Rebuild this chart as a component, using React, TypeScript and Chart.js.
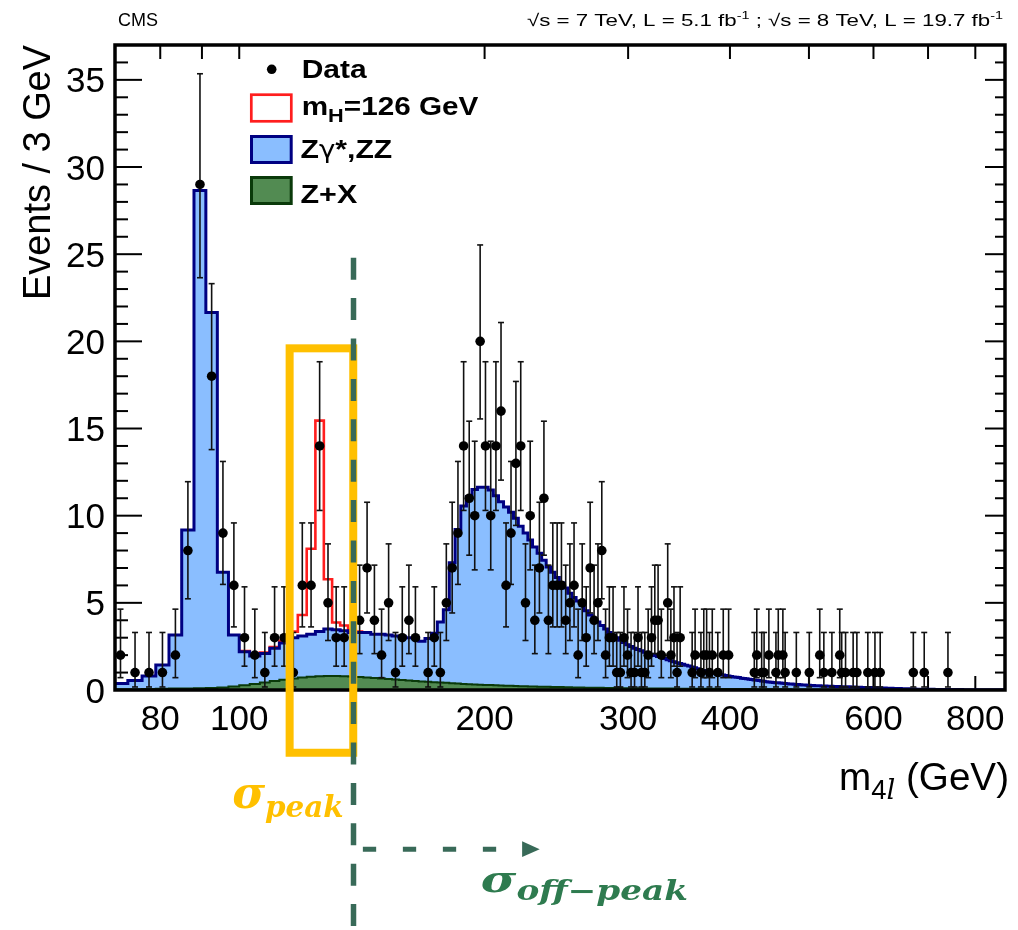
import React, { useEffect, useRef } from 'react';
import { Chart, registerables } from 'chart.js';

Chart.register(...registerables);

// ---------------- data ----------------
const BIN_START = 70; // GeV, lower edge of the first 3 GeV bin
const BIN_WIDTH = 3;

// Stack top: Zγ*,ZZ + Z+X (events / 3 GeV), one value per bin from 70 GeV
const bkgTotal = [
  0.38, 0.54, 0.80, 1.43, 3.16, 9.18, 28.66, 21.66, 6.75, 3.16,
  2.2, 1.95, 2.1, 2.4, 2.7, 3.0, 3.1, 3.2, 3.35, 3.5,
  3.45, 3.4, 3.3, 3.3, 3.3, 3.2, 3.2, 3.15, 3.1, 3.05,
  3.0, 3.0, 2.8, 2.95, 3.25, 3.9, 4.6, 7.3, 9.2, 10.55,
  11.1, 11.5, 11.63, 11.63, 11.48, 11.14, 10.8, 10.5, 10.2, 9.85,
  9.4, 9.0, 8.6, 8.2, 7.85, 7.45, 7.05, 6.75, 6.45, 6.15,
  5.85, 5.55, 5.3, 5.1, 4.85, 4.55, 4.3, 4.1, 3.9, 3.7,
  3.5, 3.3, 3.15, 3.0, 2.85, 2.72, 2.6, 2.5, 2.4, 2.32,
  2.25, 2.17, 2.1, 2.05, 1.98, 1.92, 1.86, 1.8, 1.74, 1.68,
  1.62, 1.57, 1.52, 1.47, 1.42, 1.37, 1.32, 1.27, 1.22, 1.17,
  1.12, 1.08, 1.04, 1.0, 0.96, 0.92, 0.89, 0.86, 0.83, 0.8,
  0.77, 0.75, 0.73, 0.71, 0.68, 0.66, 0.64, 0.62, 0.6, 0.58,
  0.56, 0.54, 0.52, 0.5, 0.48, 0.46, 0.45, 0.43, 0.42, 0.41,
  0.4, 0.39, 0.37, 0.36, 0.35, 0.34, 0.33, 0.32, 0.31, 0.3,
  0.29, 0.28, 0.275, 0.27, 0.26, 0.255, 0.25, 0.245, 0.24, 0.235,
  0.23, 0.225, 0.22, 0.215, 0.21, 0.205, 0.2, 0.2, 0.195, 0.19,
  0.19, 0.185, 0.18, 0.18, 0.175, 0.17, 0.165, 0.16, 0.16, 0.155,
  0.15, 0.15, 0.145, 0.14, 0.14, 0.135, 0.13, 0.13, 0.125, 0.12,
  0.12, 0.115, 0.11, 0.11, 0.105, 0.1, 0.1, 0.095, 0.09, 0.09,
  0.085, 0.08, 0.08, 0.075, 0.07, 0.07, 0.065, 0.065, 0.06, 0.06,
  0.055, 0.055, 0.05, 0.05, 0.05, 0.045, 0.045, 0.045, 0.04, 0.04,
  0.04, 0.038, 0.037, 0.036, 0.035, 0.034, 0.033, 0.032, 0.031, 0.03,
  0.03, 0.029, 0.028, 0.027, 0.026, 0.026, 0.025, 0.025, 0.024, 0.024,
  0.023, 0.023, 0.022, 0.022, 0.021, 0.021, 0.02, 0.02, 0.02, 0.019,
  0.019, 0.018, 0.018, 0.018, 0.017, 0.017, 0.017, 0.016, 0.016, 0.016,
  0.015, 0.015, 0.015, 0.014, 0.014, 0.014, 0.013, 0.013, 0.013, 0.012,
  0.012, 0.012, 0.011, 0.011, 0.011, 0.01, 0.01,
];

// Z+X reducible background (events / 3 GeV), one value per bin from 70 GeV
const zxValues = [
  0.04, 0.05, 0.06, 0.07, 0.08, 0.09, 0.1, 0.12, 0.15, 0.2,
  0.27, 0.35, 0.43, 0.51, 0.59, 0.66, 0.72, 0.76, 0.79, 0.8,
  0.8, 0.79, 0.77, 0.75, 0.72, 0.69, 0.66, 0.63, 0.6, 0.57,
  0.54, 0.51, 0.49, 0.47, 0.45, 0.43, 0.41, 0.39, 0.37, 0.35,
  0.33, 0.31, 0.3, 0.29, 0.28, 0.27, 0.26, 0.25, 0.24, 0.23,
  0.22, 0.21, 0.2, 0.195, 0.19, 0.185, 0.18, 0.175, 0.17, 0.165,
  0.16, 0.155, 0.15, 0.145, 0.14, 0.135, 0.13, 0.128, 0.125, 0.122,
  0.12, 0.117, 0.114, 0.111, 0.108, 0.105, 0.102, 0.1, 0.098, 0.096,
  0.095, 0.093, 0.092, 0.09, 0.089, 0.087, 0.086, 0.084, 0.083, 0.082,
  0.08, 0.079, 0.078, 0.076, 0.075, 0.074, 0.073, 0.072, 0.071, 0.07,
  0.069, 0.068, 0.067, 0.066, 0.065, 0.064, 0.063, 0.062, 0.061, 0.061,
  0.06, 0.059, 0.058, 0.057, 0.056, 0.055, 0.054, 0.053, 0.052, 0.051,
  0.05, 0.049, 0.048, 0.047, 0.046, 0.045, 0.044, 0.043, 0.042, 0.041,
  0.04, 0.039, 0.038, 0.037, 0.036, 0.035, 0.035, 0.034, 0.034, 0.033,
  0.032, 0.032, 0.031, 0.03, 0.029, 0.029, 0.028, 0.028, 0.027, 0.027,
  0.026, 0.026, 0.025, 0.025, 0.024, 0.024, 0.023, 0.023, 0.022, 0.022,
  0.021, 0.021, 0.02, 0.02, 0.019, 0.019, 0.018, 0.018, 0.018, 0.017,
  0.017, 0.017, 0.016, 0.016, 0.016, 0.015, 0.015, 0.015, 0.014, 0.014,
  0.014, 0.014, 0.013, 0.013, 0.013, 0.013, 0.012, 0.012, 0.012, 0.012,
  0.011, 0.011, 0.011, 0.011, 0.011, 0.01, 0.01, 0.01, 0.01, 0.01,
  0.0095, 0.0095, 0.009, 0.009, 0.009, 0.0085, 0.0085, 0.0085, 0.008, 0.008,
  0.008, 0.008, 0.0075, 0.0075, 0.0075, 0.007, 0.007, 0.007, 0.007, 0.0068,
  0.0068, 0.0066, 0.0066, 0.0064, 0.0064, 0.0062, 0.0062, 0.006, 0.006, 0.006,
  0.0058, 0.0058, 0.0058, 0.0056, 0.0056, 0.0056, 0.0055, 0.0055, 0.0055, 0.0054,
  0.0054, 0.0054, 0.0053, 0.0053, 0.0053, 0.0052, 0.0052, 0.0052, 0.0051, 0.0051,
  0.0051, 0.005, 0.005, 0.005, 0.005, 0.005, 0.005, 0.005, 0.005, 0.005,
  0.005, 0.005, 0.005, 0.005, 0.005, 0.005, 0.005,
];

// SM Higgs, mH = 126 GeV, stacked on top of the background
const HIGGS_START = 100; // GeV
const higgsSignal = [0.03, 0.04, 0.05, 0.07, 0.12, 0.35, 1.2, 4.9, 12.1, 2.85, 0.42, 0.3, 0.15, 0.05];

// Observed events (bin centres, GeV) and counts
const dataMass = [
  71.5, 74.5, 77.5, 80.5, 83.5, 86.5, 89.5, 92.5, 95.5, 98.5,
  101.5, 104.5, 107.5, 110.5, 113.5, 116.5, 119.5, 122.5, 125.5, 128.5,
  131.5, 134.5, 140.5, 143.5, 146.5, 149.5, 152.5, 155.5, 158.5, 161.5,
  164.5, 170.5, 173.5, 176.5, 179.5, 182.5, 185.5, 188.5, 191.5, 194.5,
  197.5, 200.5, 203.5, 206.5, 209.5, 212.5, 215.5, 218.5, 221.5, 224.5,
  227.5, 230.5, 233.5, 236.5, 239.5, 242.5, 245.5, 248.5, 251.5, 254.5,
  257.5, 260.5, 263.5, 266.5, 269.5, 272.5, 275.5, 278.5, 281.5, 284.5,
  287.5, 290.5, 293.5, 296.5, 299.5, 302.5, 305.5, 308.5, 311.5, 314.5,
  317.5, 320.5, 323.5, 326.5, 329.5, 335.5, 338.5, 341.5, 344.5, 347.5,
  359.5, 362.5, 368.5, 371.5, 374.5, 377.5, 380.5, 386.5, 392.5, 398.5,
  428.5, 431.5, 437.5, 440.5, 446.5, 455.5, 458.5, 464.5, 467.5, 482.5,
  500.5, 515.5, 521.5, 533.5, 545.5, 548.5, 554.5, 566.5, 572.5, 590.5,
  602.5, 611.5, 671.5, 692.5, 740.5,
];
const dataCount = [
  2, 1, 1, 1, 2, 8, 29, 18, 9, 6,
  3, 2, 1, 3, 3, 1, 6, 6, 14, 5,
  3, 3, 4, 7, 4, 2, 5, 1, 3, 4,
  3, 1, 3, 1, 5, 7, 9, 14, 11, 10,
  20, 14, 10, 14, 16, 6, 9, 13, 14, 5,
  10, 4, 7, 11, 4, 6, 6, 6, 4, 5,
  6, 2, 5, 3, 7, 4, 5, 8, 2, 3,
  3, 1, 1, 3, 2, 1, 1, 3, 1, 1,
  2, 3, 4, 4, 2, 5, 2, 3, 1, 3,
  1, 2, 1, 2, 2, 1, 2, 1, 2, 2,
  1, 2, 1, 1, 2, 1, 2, 2, 1, 1,
  1, 2, 1, 1, 2, 1, 1, 1, 1, 1,
  1, 1, 1, 1, 1,
];

// 68.3% Garwood Poisson intervals, indexed by observed count
const poissonLow = [
  0, 0.173, 0.708, 1.367, 2.086, 2.84, 3.62, 4.419, 5.232, 6.057,
  6.891, 7.734, 8.585, 9.441, 10.3, 11.17, 12.04, 12.91, 13.79, 14.67,
  15.55, 16.44, 17.33, 18.22, 19.12, 20.02, 20.92, 21.83, 22.74, 23.65,
];
const poissonHigh = [
  1.841, 3.3, 4.638, 5.918, 7.163, 8.382, 9.584, 10.77, 11.95, 13.11,
  14.27, 15.42, 16.56, 17.7, 18.83, 19.95, 21.08, 22.2, 23.31, 24.42,
  25.53, 26.63, 27.73, 28.83, 29.92, 31.01, 32.1, 33.19, 34.27, 35.35,
];

// Axes
const X_MIN = 70.4;
const X_MAX = 870;
const Y_MIN = 0;
const Y_MAX = 37;
const xTickValues = [80, 90, 100, 200, 300, 400, 500, 600, 700, 800];
const xLabelValues = [80, 100, 200, 300, 400, 600, 800];
const yMajorTicks = [0, 5, 10, 15, 20, 25, 30, 35];
const Y_MINOR_STEP = 1;

// Annotation (in axis units)
const peakWindowMass = [115.3, 138.0];
const peakWindowEvents = [19.6, -3.6];
const offPeakMass = 138.1;
const offPeakLineTop = 24.8;
const offPeakArrow = { from: 141.8, to: 233.7, events: -9.13 };

const COLORS = {
  blueFill: 'rgb(138,190,255)',
  navy: 'rgb(0,0,130)',
  red: 'rgb(255,30,30)',
  greenFill: 'rgb(82,139,82)',
  greenLine: 'rgb(10,58,10)',
  gold: '#FFC000',
  dashGreen: '#386A58',
  offPeakText: '#2E7B4F',
};

const SANS = '"Liberation Sans", Arial, Helvetica, sans-serif';
const SERIF = '"DejaVu Serif", "Liberation Serif", serif';

// ---------------- helpers ----------------
function histPoints(values: number[], start: number) {
  const pts = values.map((v, i) => ({ x: start + i * BIN_WIDTH, y: v }));
  pts.push({ x: start + values.length * BIN_WIDTH, y: values[values.length - 1] });
  return pts;
}

type Run = { t: string; font: string; dy?: number };

function drawRuns(
  ctx: CanvasRenderingContext2D,
  runs: Run[],
  x: number,
  y: number,
  color: string,
  align: 'left' | 'right' | 'center',
  targetWidth?: number,
) {
  ctx.save();
  let w = 0;
  const widths = runs.map((r) => {
    ctx.font = r.font;
    const m = ctx.measureText(r.t).width;
    w += m;
    return m;
  });
  const sx = targetWidth ? targetWidth / w : 1;
  const total = w * sx;
  const x0 = align === 'right' ? x - total : align === 'center' ? x - total / 2 : x;
  ctx.translate(x0, y);
  ctx.scale(sx, 1);
  ctx.fillStyle = color;
  ctx.textBaseline = 'alphabetic';
  ctx.textAlign = 'left';
  let cx = 0;
  runs.forEach((r, i) => {
    ctx.font = r.font;
    ctx.fillText(r.t, cx, r.dy || 0);
    cx += widths[i];
  });
  ctx.restore();
}

function line(ctx: CanvasRenderingContext2D, x1: number, y1: number, x2: number, y2: number) {
  ctx.beginPath();
  ctx.moveTo(x1, y1);
  ctx.lineTo(x2, y2);
  ctx.stroke();
}

const DATA_INDEX = 3;

const decorPlugin = {
  id: 'cmsDecor',
  beforeDatasetsDraw(chart: any) {
    const ctx: CanvasRenderingContext2D = chart.ctx;
    const { left, right, top, bottom } = chart.chartArea;
    const xs = chart.scales.x;
    const ys = chart.scales.y;
    ctx.save();
    ctx.strokeStyle = '#000';
    ctx.lineWidth = 2;
    for (let v = Y_MIN; v <= Y_MAX; v += Y_MINOR_STEP) {
      const y = ys.getPixelForValue(v);
      const major = yMajorTicks.includes(v);
      line(ctx, left, y, left + (major ? 27 : 13), y);
      line(ctx, right, y, right - (major ? 20 : 10), y);
    }
    xTickValues.forEach((v) => {
      const x = xs.getPixelForValue(v);
      line(ctx, x, bottom, x, bottom - 14);
      line(ctx, x, top, x, top + 14);
    });
    ctx.restore();
  },
  beforeDatasetDraw(chart: any, args: any) {
    if (args.index !== DATA_INDEX) return;
    const ctx: CanvasRenderingContext2D = chart.ctx;
    const xs = chart.scales.x;
    const ys = chart.scales.y;
    ctx.save();
    ctx.strokeStyle = '#111';
    ctx.lineWidth = 1.6;
    dataMass.forEach((m, i) => {
      const n = dataCount[i];
      const x = xs.getPixelForValue(m);
      const yl = ys.getPixelForValue(poissonLow[n]);
      const yh = ys.getPixelForValue(poissonHigh[n]);
      line(ctx, x, yl, x, yh);
      line(ctx, x - 3, yl, x + 3, yl);
      line(ctx, x - 3, yh, x + 3, yh);
    });
    ctx.restore();
  },
  afterDatasetsDraw(chart: any) {
    const ctx: CanvasRenderingContext2D = chart.ctx;
    const { left, right, top, bottom } = chart.chartArea;
    ctx.save();
    ctx.strokeStyle = '#000';
    ctx.lineWidth = 3.5;
    ctx.strokeRect(left, top, right - left, bottom - top);
    ctx.restore();
  },
  afterDraw(chart: any) {
    const ctx: CanvasRenderingContext2D = chart.ctx;
    const { left, right, top, bottom } = chart.chartArea;
    const xs = chart.scales.x;
    const ys = chart.scales.y;
    const px = (m: number) => xs.getPixelForValue(m);
    const py = (v: number) => ys.getPixelForValue(v);

    // tick labels
    yMajorTicks.forEach((v) => {
      drawRuns(ctx, [{ t: String(v), font: `35px ${SANS}` }], left - 10, py(v) + 12.5, '#000', 'right');
    });
    xLabelValues.forEach((v) => {
      drawRuns(ctx, [{ t: String(v), font: `35px ${SANS}` }], px(v), bottom + 39.5, '#000', 'center');
    });

    // axis titles
    ctx.save();
    ctx.translate(50, top);
    ctx.rotate(-Math.PI / 2);
    drawRuns(ctx, [{ t: 'Events / 3 GeV', font: `38px ${SANS}` }], 0, 0, '#000', 'right', 255);
    ctx.restore();
    drawRuns(
      ctx,
      [
        { t: 'm', font: `38px ${SANS}` },
        { t: '4', font: `27px ${SANS}`, dy: 9 },
        { t: 'l', font: `italic 27px ${SERIF}`, dy: 9 },
        { t: ' (GeV)', font: `38px ${SANS}` },
      ],
      right + 4,
      bottom + 100,
      '#000',
      'right',
      170,
    );

    // header
    drawRuns(ctx, [{ t: 'CMS', font: `18px ${SANS}` }], left + 3, 26, '#000', 'left');
    drawRuns(
      ctx,
      [
        { t: '\u221As = 7 TeV, L = 5.1 fb', font: `17px ${SANS}` },
        { t: '-1', font: `11px ${SANS}`, dy: -7 },
        { t: ' ; \u221As = 8 TeV, L = 19.7 fb', font: `17px ${SANS}` },
        { t: '-1', font: `11px ${SANS}`, dy: -7 },
      ],
      right - 2,
      26,
      '#000',
      'right',
      476,
    );

    // legend
    const LB = `bold 26px ${SANS}`;
    ctx.save();
    ctx.fillStyle = '#000';
    ctx.beginPath();
    ctx.arc(271.7, 69.3, 4.8, 0, Math.PI * 2);
    ctx.fill();
    ctx.lineJoin = 'miter';
    ctx.lineWidth = 2.7;
    ctx.strokeStyle = COLORS.red;
    ctx.fillStyle = '#fff';
    ctx.fillRect(251.3, 94.7, 40, 26.6);
    ctx.strokeRect(251.3, 94.7, 40, 26.6);
    ctx.lineWidth = 3;
    ctx.fillStyle = COLORS.blueFill;
    ctx.strokeStyle = COLORS.navy;
    ctx.fillRect(251.5, 136.5, 39.7, 26);
    ctx.strokeRect(251.5, 136.5, 39.7, 26);
    ctx.fillStyle = COLORS.greenFill;
    ctx.strokeStyle = COLORS.greenLine;
    ctx.fillRect(251.5, 177.5, 39.7, 26);
    ctx.strokeRect(251.5, 177.5, 39.7, 26);
    ctx.restore();
    drawRuns(ctx, [{ t: 'Data', font: LB }], 301.7, 78.3, '#000', 'left', 65);
    drawRuns(
      ctx,
      [
        { t: 'm', font: LB },
        { t: 'H', font: `bold 19px ${SANS}`, dy: 6.5 },
        { t: '=126 GeV', font: LB },
      ],
      301.7,
      115,
      '#000',
      'left',
      176.7,
    );
    drawRuns(
      ctx,
      [
        { t: 'Z', font: LB },
        { t: '\u03B3', font: `24px "DejaVu Sans", ${SANS}` },
        { t: '*,ZZ', font: LB },
      ],
      300.5,
      158.3,
      '#000',
      'left',
      91.7,
    );
    drawRuns(ctx, [{ t: 'Z+X', font: LB }], 300.5, 203.3, '#000', 'left', 56.7);

    // annotation: peak window
    const bx1 = px(peakWindowMass[0]);
    const bx2 = px(peakWindowMass[1]);
    const by1 = py(peakWindowEvents[0]);
    const by2 = py(peakWindowEvents[1]);
    ctx.save();
    ctx.strokeStyle = COLORS.gold;
    ctx.lineWidth = 8;
    ctx.lineJoin = 'miter';
    ctx.strokeRect(bx1, by1, bx2 - bx1, by2 - by1);
    ctx.restore();

    // annotation: off-peak dashed line and arrow
    const lx = px(offPeakMass);
    ctx.save();
    ctx.strokeStyle = COLORS.dashGreen;
    ctx.lineWidth = 5.5;
    ctx.setLineDash([22, 18.4]);
    line(ctx, lx, py(offPeakLineTop), lx, 940);
    const ay = py(offPeakArrow.events);
    const ax1 = px(offPeakArrow.from);
    const ax2 = px(offPeakArrow.to);
    ctx.lineWidth = 5;
    ctx.setLineDash([13.3, 26.7]);
    line(ctx, ax1, ay, ax2 - 22, ay);
    ctx.setLineDash([]);
    ctx.fillStyle = COLORS.dashGreen;
    ctx.beginPath();
    ctx.moveTo(ax2, ay);
    ctx.lineTo(ax2 - 17.6, ay - 7.8);
    ctx.lineTo(ax2 - 17.6, ay + 7.8);
    ctx.closePath();
    ctx.fill();
    ctx.restore();

    // annotation labels
    drawRuns(
      ctx,
      [
        { t: '\u03C3', font: `bold italic 44px ${SERIF}` },
        { t: 'peak', font: `bold italic 29px ${SERIF}`, dy: 8.7 },
      ],
      bx2 - 9.5,
      808,
      COLORS.gold,
      'right',
      111.6,
    );
    drawRuns(
      ctx,
      [
        { t: '\u03C3', font: `bold italic 38px ${SERIF}` },
        { t: 'off\u2212peak', font: `bold italic 27px ${SERIF}`, dy: 8.3 },
      ],
      ax1 + 118,
      891.7,
      COLORS.offPeakText,
      'left',
      207,
    );
  },
};

export default function App() {
  const ref = useRef<HTMLCanvasElement>(null);

  useEffect(() => {
    const canvas = ref.current;
    if (!canvas) return;

    const higgsTop = higgsSignal.map((h, i) => {
      const k = Math.round((HIGGS_START - BIN_START) / BIN_WIDTH) + i;
      return bkgTotal[k] + h;
    });

    const chart = new Chart(canvas, {
      type: 'line',
      data: {
        datasets: [
          {
            label: 'mH=126 GeV',
            data: histPoints(higgsTop, HIGGS_START),
            stepped: true,
            borderColor: COLORS.red,
            borderWidth: 2.6,
            pointRadius: 0,
            fill: false,
            order: 4,
          },
          {
            label: 'Zγ*,ZZ',
            data: histPoints(bkgTotal, BIN_START),
            stepped: true,
            borderColor: COLORS.navy,
            backgroundColor: COLORS.blueFill,
            borderWidth: 3,
            pointRadius: 0,
            fill: 'origin',
            order: 3,
          },
          {
            label: 'Z+X',
            data: histPoints(zxValues, BIN_START),
            stepped: true,
            borderColor: COLORS.greenLine,
            backgroundColor: COLORS.greenFill,
            borderWidth: 2,
            pointRadius: 0,
            fill: 'origin',
            order: 2,
          },
          {
            label: 'Data',
            data: dataMass.map((m, i) => ({ x: m, y: dataCount[i] })),
            showLine: false,
            pointRadius: 4.8,
            pointBackgroundColor: '#000',
            pointBorderColor: '#000',
            pointBorderWidth: 0,
            order: 1,
          },
        ] as any,
      },
      options: {
        animation: false,
        responsive: false,
        devicePixelRatio: 1,
        events: [],
        layout: { padding: { left: 115, top: 45, right: 13, bottom: 240 } },
        plugins: { legend: { display: false }, tooltip: { enabled: false } },
        scales: {
          x: { type: 'logarithmic', min: X_MIN, max: X_MAX, display: false },
          y: { type: 'linear', min: Y_MIN, max: Y_MAX, display: false },
        },
      },
      plugins: [decorPlugin],
    });

    return () => chart.destroy();
  }, []);

  return (
    <div style={{ position: 'fixed', left: 0, top: 0, width: 1018, height: 930, background: '#fff' }}>
      <canvas ref={ref} width={1018} height={930} style={{ width: 1018, height: 930, display: 'block' }} />
    </div>
  );
}
